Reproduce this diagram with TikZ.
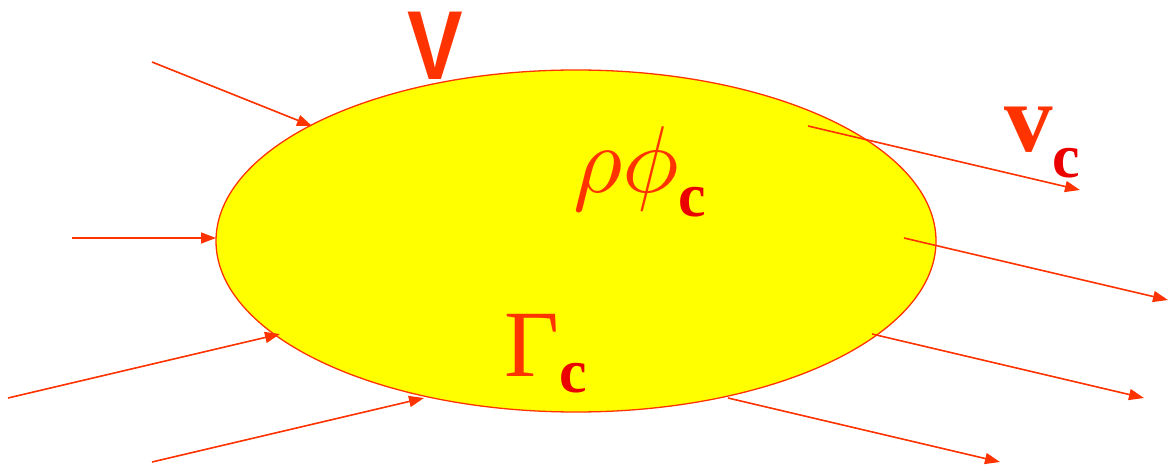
\documentclass[tikz,border=0pt]{standalone}
\usepackage{graphicx}
\usepackage{fontspec}
\setmainfont{Liberation Serif}
\newfontfamily\vfont{Liberation Sans}
\usepackage{tikz}
\usetikzlibrary{arrows.meta}
\definecolor{flux}{RGB}{255,51,0}
\definecolor{subred}{RGB}{235,0,0}
\definecolor{vol}{RGB}{255,255,0}
\tikzset{>={Triangle[length=15pt,width=11pt]}}
\tikzset{flow/.style={flux, line width=1.6pt, ->}}

\begin{document}
\begin{tikzpicture}[x=1pt, y=-1pt]
    \useasboundingbox (0,0) rectangle (1168,468);
    % control volume
    \draw [fill=vol, draw=flux, line width=1.3pt] (576,241) ellipse [x radius=360, y radius=171];
    % incoming and outgoing flux
    \foreach \nm/\ax/\ay/\bx/\by in {in1/152/62/312/126, in2/72/238/216/238, in3/8/398/280/334, in4/152/462/424/398,
                                     out1/808/126/1080/190, out2/904/238/1168/300, out3/872/334/1144/398, out4/728/398/1000/462} {
        \coordinate (\nm a) at (\ax,\ay);
        \coordinate (\nm b) at (\bx,\by);
        \draw [flow] (\nm a) -- (\nm b);
    }
    % labels
    \node (vlab) [flux, anchor=base, inner sep=0, xscale=0.85] at (435,80) {\vfont\bfseries\fontsize{98}{98}\selectfont V};
    \node (rho) [flux, anchor=base west, inner sep=0] at (573,193)
        {\scalebox{9.5}{$\rho\phi$}\raisebox{-24pt}{\textcolor{subred}{\fontsize{62}{62}\selectfont\bfseries c}}};
    \node (gam) [flux, anchor=base west, inner sep=0] at (504,376)
        {\fontsize{95}{95}\selectfont\textup{\char"0393}\raisebox{-16pt}{\textcolor{subred}{\fontsize{62}{62}\selectfont\bfseries c}}};
    \node (vel) [flux, anchor=base west, inner sep=0] at (1004,152)
        {\fontsize{97}{97}\selectfont\bfseries v\raisebox{-26pt}{\textcolor{subred}{\fontsize{62}{62}\selectfont c}}};
\end{tikzpicture}
\end{document}
